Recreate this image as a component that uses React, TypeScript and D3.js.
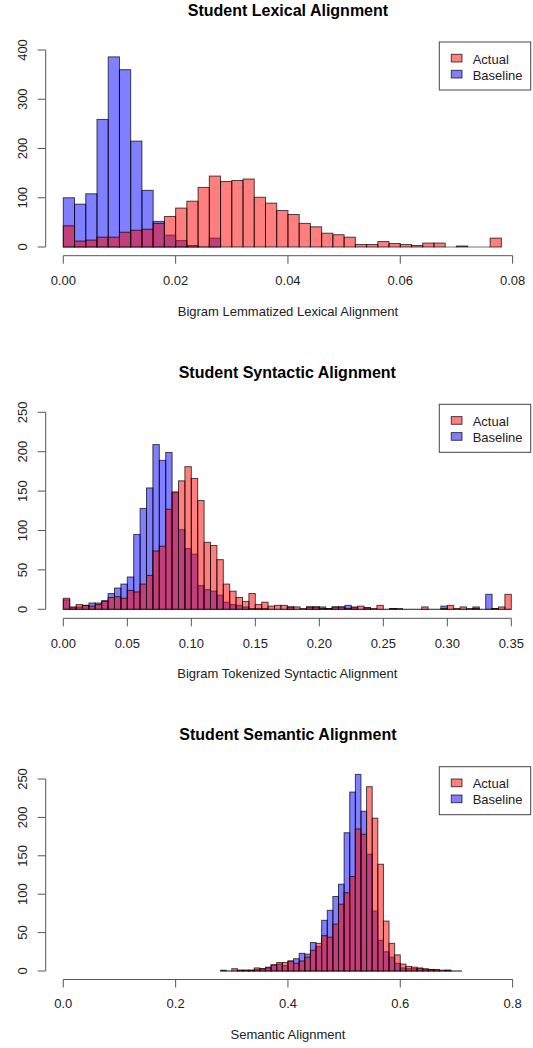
import React from "react";
import * as d3 from "d3";

// ---------- Data (histogram counts) ----------
// Panel 1: Bigram Lemmatized Lexical Alignment, bins of 0.002 starting at 0
const lexActual = [43, 12, 14, 20, 20, 30, 34, 36, 48, 62, 79, 93, 121, 144, 133, 135, 138, 101, 89, 74, 66, 48, 41, 28, 25, 20, 5, 5, 11, 7, 5, 3, 8, 8, 0, 2, 0, 0, 18];
const lexBaseline = [100, 87, 108, 259, 386, 360, 215, 115, 52, 24, 13, 3, 0, 18];
const lexXTicks = [0, 0.02, 0.04, 0.06, 0.08];
const lexXTickLabels = ["0.00", "0.02", "0.04", "0.06", "0.08"];
const lexYTicks = [0, 100, 200, 300, 400];

// Panel 2: Bigram Tokenized Syntactic Alignment, bins of 0.005 starting at 0
const synActual = [14, 3, 6, 5, 4, 6, 10, 15, 16, 14, 24, 22, 32, 43, 74, 80, 127, 149, 163, 181, 166, 138, 85, 81, 63, 32, 23, 15, 10, 20, 6, 9, 4, 5, 5, 3, 3, 1, 3, 3, 1, 1, 3, 3, 1, 3, 4, 2, 1, 5, 0, 1, 1, 0, 0, 0, 3, 0, 0, 1, 5, 1, 3, 1, 1, 0, 0, 1, 3, 19];
const synBaseline = [12, 2, 3, 5, 8, 8, 11, 20, 27, 32, 41, 95, 128, 154, 209, 189, 199, 148, 101, 77, 70, 30, 25, 23, 18, 9, 6, 5, 3, 1, 1, 1, 0, 0, 0, 3, 0, 0, 3, 3, 3, 1, 3, 3, 5, 2, 0, 2, 0, 0, 0, 1, 0, 0, 0, 0, 0, 0, 0, 4, 0, 0, 0, 0, 3, 0, 19, 1, 0, 0];
const synXTicks = [0, 0.05, 0.1, 0.15, 0.2, 0.25, 0.3, 0.35];
const synXTickLabels = ["0.00", "0.05", "0.10", "0.15", "0.20", "0.25", "0.30", "0.35"];
const synYTicks = [0, 50, 100, 150, 200, 250];

// Panel 3: Semantic Alignment, bins of 0.01 starting at 0.28
const semActual = [0, 0, 3, 1, 1, 1, 4, 3, 4, 8, 11, 11, 13, 10, 13, 18, 27, 36, 46, 44, 61, 87, 102, 123, 185, 178, 240, 199, 139, 65, 36, 21, 9, 6, 5, 4, 3, 2, 2, 0, 1, 0, 0];
const semBaseline = [1, 0, 0, 1, 1, 1, 2, 3, 5, 8, 9, 7, 13, 16, 23, 22, 37, 32, 66, 79, 97, 113, 180, 233, 256, 208, 152, 78, 40, 25, 18, 10, 4, 3, 3, 3, 2, 2, 1, 1, 1, 0, 0];
const semXTicks = [0, 0.2, 0.4, 0.6, 0.8];
const semXTickLabels = ["0.0", "0.2", "0.4", "0.6", "0.8"];
const semYTicks = [0, 50, 100, 150, 200, 250];

const seriesNames = ["Actual", "Baseline"];

// ---------- Styles ----------
const FONT = "'Liberation Sans', Arial, Helvetica, sans-serif";
const RED = "rgba(255,0,0,0.5)";
const BLUE = "rgba(0,0,255,0.5)";
const AXIS = "#555";

type PanelProps = {
  title: string;
  xLabel: string;
  actual: number[];
  baseline: number[];
  binStart: number;
  binW: number;
  xTicks: number[];
  xTickLabels: string[];
  yTicks: number[];
  xMax: number;
  yMax: number;
  left: number;
  right: number;
  yZero: number;
  yTop: number;
  axisY: number;
  tickLabelY: number;
  titleY: number;
  xLabelY: number;
  legendTop: number;
};

function Bars({ data, fill, binStart, binW, x, y }: any) {
  return (
    <g>
      {data.map((v: number, i: number) => {
        const x0 = binStart + i * binW;
        const xa = x(x0);
        const xb = x(x0 + binW);
        if (v === 0) {
          return <line key={i} x1={xa} x2={xb} y1={y(0)} y2={y(0)} stroke="#000" strokeOpacity={0.55} strokeWidth={1} />;
        }
        return (
          <rect
            key={i}
            x={xa}
            y={y(v)}
            width={xb - xa}
            height={y(0) - y(v)}
            fill={fill}
            stroke="#000"
            strokeOpacity={0.7}
            strokeWidth={1}
          />
        );
      })}
    </g>
  );
}

function Panel(p: PanelProps) {
  const x = d3.scaleLinear().domain([0, p.xMax]).range([p.left, p.right]);
  const y = d3.scaleLinear().domain([0, p.yMax]).range([p.yZero, p.yTop]);
  const axisX = 45.7;
  const lx = 439.3;
  const lw = 91.4;
  const lh = 48;
  const midX = (p.left + p.right) / 2;
  return (
    <g>
      <text x={midX} y={p.titleY} textAnchor="middle" fontFamily={FONT} fontWeight="bold" fontSize={16} fill="#000">
        {p.title}
      </text>
      <Bars data={p.baseline} fill={BLUE} binStart={p.binStart} binW={p.binW} x={x} y={y} />
      <Bars data={p.actual} fill={RED} binStart={p.binStart} binW={p.binW} x={x} y={y} />
      {/* y axis */}
      <line x1={axisX} x2={axisX} y1={y(p.yTicks[0])} y2={y(p.yTicks[p.yTicks.length - 1])} stroke={AXIS} strokeWidth={1} />
      {p.yTicks.map((t) => (
        <g key={t} transform={`translate(${axisX},${y(t)})`}>
          <line x1={0} x2={-8} y1={0} y2={0} stroke={AXIS} strokeWidth={1} />
          <text transform="rotate(-90)" x={0} y={-19} textAnchor="middle" fontFamily={FONT} fontSize={13} fill="#222">
            {String(t)}
          </text>
        </g>
      ))}
      {/* x axis */}
      <line x1={x(p.xTicks[0])} x2={x(p.xTicks[p.xTicks.length - 1])} y1={p.axisY} y2={p.axisY} stroke={AXIS} strokeWidth={1} />
      {p.xTicks.map((t, i) => (
        <g key={t} transform={`translate(${x(t)},${p.axisY})`}>
          <line x1={0} x2={0} y1={0} y2={8} stroke={AXIS} strokeWidth={1} />
          <text x={0} y={p.tickLabelY - p.axisY} textAnchor="middle" fontFamily={FONT} fontSize={13} fill="#222">
            {p.xTickLabels[i]}
          </text>
        </g>
      ))}
      <text x={midX} y={p.xLabelY} textAnchor="middle" fontFamily={FONT} fontSize={13} fill="#222">
        {p.xLabel}
      </text>
      {/* legend */}
      <g>
        <rect x={lx} y={p.legendTop} width={lw} height={lh} fill="#fff" stroke="#444" strokeWidth={1} />
        {[RED, BLUE].map((c, i) => (
          <g key={i}>
            <rect x={451.3} y={p.legendTop + 12.3 + i * 16} width={10.7} height={7.7} fill={c} stroke="#000" strokeOpacity={0.7} />
            <text x={472.7} y={p.legendTop + 21.5 + i * 16} fontFamily={FONT} fontSize={13} fill="#222">
              {seriesNames[i]}
            </text>
          </g>
        ))}
      </g>
    </g>
  );
}

export default function App() {
  return (
    <svg width={533} height={1048} style={{ position: "absolute", left: 0, top: 0, background: "#fff" }}>
      <rect x={0} y={0} width={533} height={1048} fill="#fff" />
      <Panel
        title="Student Lexical Alignment"
        xLabel="Bigram Lemmatized Lexical Alignment"
        actual={lexActual}
        baseline={lexBaseline}
        binStart={0}
        binW={0.002}
        xTicks={lexXTicks}
        xTickLabels={lexXTickLabels}
        yTicks={lexYTicks}
        xMax={0.08}
        yMax={400}
        left={63.3}
        right={512.6}
        yZero={247}
        yTop={50}
        axisY={255.7}
        tickLabelY={285.5}
        titleY={15.5}
        xLabelY={316}
        legendTop={42}
      />
      <Panel
        title="Student Syntactic Alignment"
        xLabel="Bigram Tokenized Syntactic Alignment"
        actual={synActual}
        baseline={synBaseline}
        binStart={0}
        binW={0.005}
        xTicks={synXTicks}
        xTickLabels={synXTickLabels}
        yTicks={synYTicks}
        xMax={0.35}
        yMax={250}
        left={63.3}
        right={511.3}
        yZero={609.3}
        yTop={412.3}
        axisY={618.3}
        tickLabelY={648.5}
        titleY={378}
        xLabelY={678}
        legendTop={404.3}
      />
      <Panel
        title="Student Semantic Alignment"
        xLabel="Semantic Alignment"
        actual={semActual}
        baseline={semBaseline}
        binStart={0.28}
        binW={0.01}
        xTicks={semXTicks}
        xTickLabels={semXTickLabels}
        yTicks={semYTicks}
        xMax={0.8}
        yMax={250}
        left={63.3}
        right={512.6}
        yZero={971}
        yTop={779}
        axisY={979.5}
        tickLabelY={1008.3}
        titleY={740}
        xLabelY={1039}
        legendTop={766.7}
      />
    </svg>
  );
}
